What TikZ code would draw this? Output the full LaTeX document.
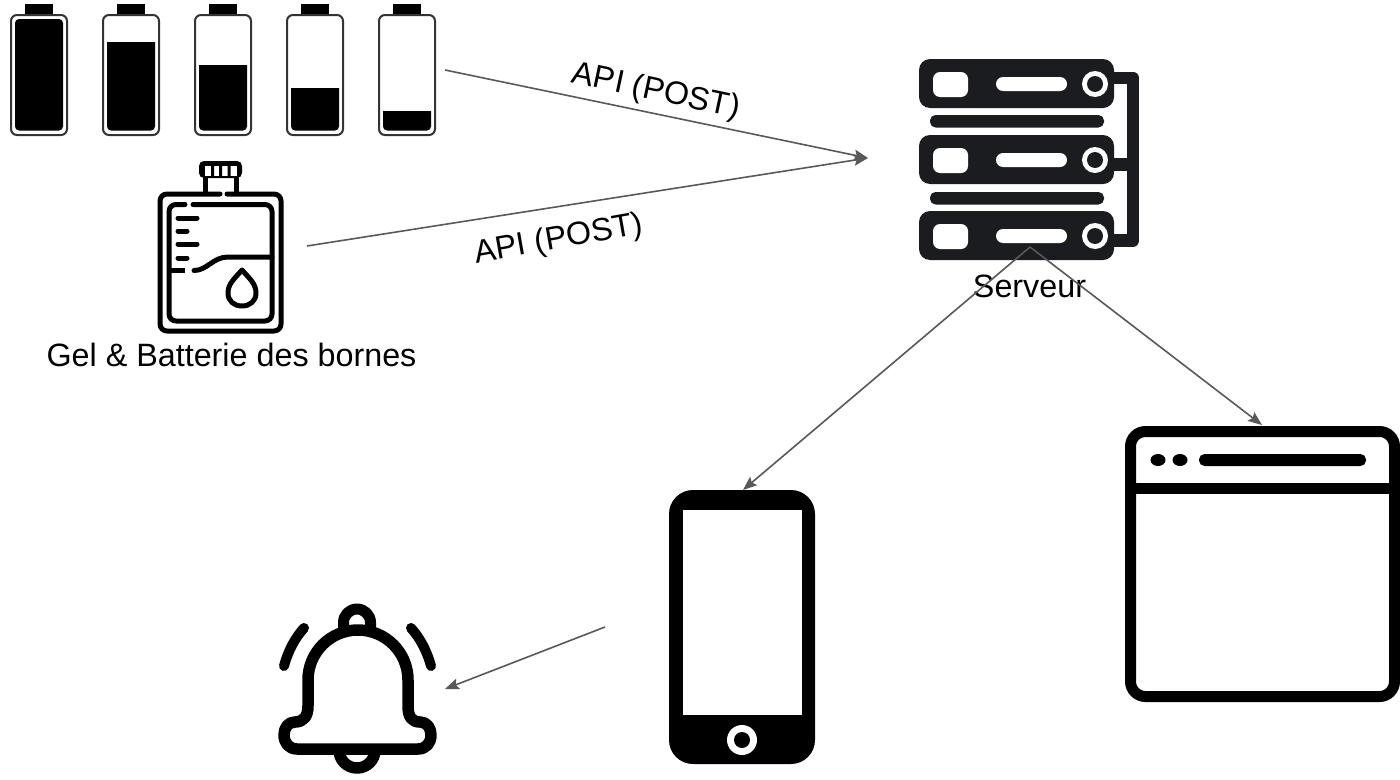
\documentclass[tikz,border=0pt]{standalone}
\usepackage{fontspec}
\setmainfont{Liberation Sans}
\usetikzlibrary{arrows.meta}
\definecolor{conn}{HTML}{595959}
\definecolor{srv}{HTML}{1A1C20}
\definecolor{battline}{HTML}{333333}
\tikzset{
  x=1pt,y=-1pt,
  label text/.style={font=\fontsize{32.3}{38}\selectfont,text=black,inner sep=0pt},
  connector/.style={draw=conn,line width=1.6pt,-{Stealth[length=14pt,width=11pt,inset=2.5pt]}},
  battbox/.style={draw=battline,line width=2pt,rounded corners=6pt,fill=white},
  bottleline/.style={draw=black,line width=5pt,line cap=round,line join=round},
  bellline/.style={draw=black,line width=11.5pt,line cap=round,line join=round},
  browserline/.style={draw=black,line width=11pt},
}
\newcommand{\battery}[2]{%
  \fill[black] (#1+14,4) rectangle (#1+42,15);
  \draw[battbox] (#1,15) rectangle (#1+56,135);
  \fill[black] (#1+4,#2) -- (#1+52,#2) [rounded corners=4pt] -- (#1+52,130.5) -- (#1+4,130.5) [sharp corners] -- cycle;
}
\newcommand{\rack}[1]{%
  \fill[srv,rounded corners=11pt] (919,#1) rectangle (1114,#1+49);
  \fill[white,rounded corners=7pt] (933,#1+13) rectangle (968,#1+38);
  \fill[white,rounded corners=7pt] (996,#1+18) rectangle (1067,#1+32);
  \fill[white] (1095,#1+25) circle[radius=13];
  \fill[srv] (1095,#1+25) circle[radius=8];
}
\begin{document}
\begin{tikzpicture}
\useasboundingbox (0,0) rectangle (1400,779);
\fill[white] (0,0) rectangle (1400,779);
% batteries
\fill[black,rounded corners=4pt] (15,19) rectangle (63,130.5);
\begin{scope}
\fill[black] (25,4) rectangle (53,15);
\draw[battbox,fill=none] (11,15) rectangle (67,135);
\end{scope}
\battery{103}{42}
\battery{195}{65}
\battery{287}{88}
\battery{379}{111}
% bottle
\draw[bottleline,rounded corners=7pt] (220,194) -- (160,194) -- (160,331) -- (281,331) -- (281,194) -- (227,194);
\draw[bottleline,line cap=butt] (205,177) -- (205,194);
\draw[bottleline,line cap=butt] (236,177) -- (236,194);
\fill[black,rounded corners=5pt] (199,161) rectangle (242,178);
\fill[white] (205,166) rectangle (237,175.5);
\fill[black] (211,165) rectangle (214,176) (219,165) rectangle (222,176) (227.5,165) rectangle (230.5,176);
\draw[bottleline,rounded corners=7pt] (185,204.5) -- (169,204.5) -- (169,321) -- (272,321) -- (272,204.5) -- (193,204.5);
\draw[bottleline] (178,218) -- (197,218);
\draw[bottleline] (178,231) -- (187,231);
\draw[bottleline] (178,244) -- (197,244);
\draw[bottleline] (178,258) -- (187,258);
\draw[bottleline,line cap=butt] (169,270.5) -- (185,270.5);
\draw[bottleline] (194,270.5) .. controls (207,270.5) and (213,257) .. (228,257) -- (272,257);
\draw[bottleline] (242,270) .. controls (234,279) and (228,284) .. (228,293) .. controls (228,301) and (234,306) .. (242,306) .. controls (250,306) and (256,301) .. (256,293) .. controls (256,284) and (250,279) .. (242,270) -- cycle;
% server
\draw[srv,line width=12.5pt,line join=round] (1110,78) -- (1133,78) -- (1133,240.5) -- (1110,240.5);
\draw[srv,line width=12.5pt] (1110,164.5) -- (1133,164.5);
\rack{59}
\rack{135}
\rack{211}
\fill[srv,rounded corners=5.5pt] (930,115) rectangle (1104,127.5);
\fill[srv,rounded corners=5.5pt] (930,192) rectangle (1104,204.5);
% phone
\fill[black,rounded corners=24pt] (669,490) rectangle (815,764);
\fill[white] (683,510) rectangle (802,715);
\fill[white] (742,740) circle[radius=15];
\fill[black] (742,740) circle[radius=8];
% browser
\draw[browserline,rounded corners=15pt] (1130.5,431.5) rectangle (1394.5,696.5);
\draw[browserline] (1130.5,488) -- (1394.5,488);
\fill[black] (1158,460) ellipse[x radius=7.5,y radius=6];
\fill[black] (1180,460) ellipse[x radius=7.5,y radius=6];
\fill[black,rounded corners=5.5pt] (1199,454) rectangle (1366,466);
% bell
\draw[bellline,line width=11pt,line cap=butt] (343.5,632) -- (343.5,622.5) arc[start angle=180,end angle=360,radius=13.5] -- (370.5,632);
\draw[bellline,line cap=butt] (339,750) arc[start angle=180,end angle=0,radius=18];
\draw[bellline] (308,680) arc[start angle=180,end angle=360,radius=50] -- (408,706)
  .. controls (408,717) and (412,722) .. (420,722)
  .. controls (427,722) and (431,728) .. (431,735)
  .. controls (431,743) and (426,749) .. (418,749)
  -- (297,749)
  .. controls (289,749) and (284,743) .. (284,735)
  .. controls (284,728) and (288,722) .. (295,722)
  .. controls (303,722) and (308,717) .. (308,706) -- cycle;
\draw[bellline,line width=10pt] (304,628) .. controls (295,638) and (288,651) .. (284,666);
\draw[bellline,line width=10pt] (411,628) .. controls (420,638) and (427,651) .. (431,666);
% labels
\node[label text] (gel) at (231.5,355) {Gel \& Batterie des bornes};
\node[label text] (serveur) at (1029.5,286) {Serveur};
\node[label text,rotate=-12] (api1) at (656,92) {API (POST)};
\node[label text,rotate=10] (api2) at (559,240) {API (POST)};
% connectors
\coordinate (battout) at (445,70);
\coordinate (bottleout) at (307,246);
\coordinate (srvin) at (868,158);
\coordinate (srvout) at (1030,247);
\coordinate (phonein) at (743,490);
\coordinate (webin) at (1262,425);
\coordinate (phoneout) at (605,627);
\coordinate (bellin) at (445,689);
\draw[connector] (battout) -- (srvin);
\draw[connector] (bottleout) -- (srvin);
\draw[connector] (srvout) -- (phonein);
\draw[connector] (srvout) -- (webin);
\draw[connector] (phoneout) -- (bellin);
\end{tikzpicture}
\end{document}
